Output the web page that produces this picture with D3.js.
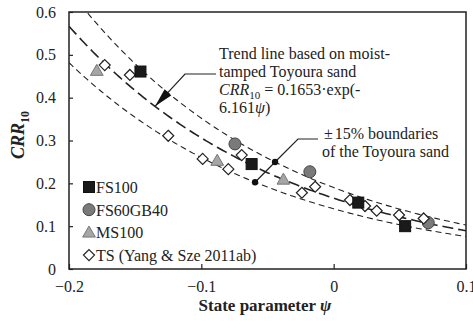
<!DOCTYPE html>
<html><head><meta charset="utf-8">
<script src="https://cdn.jsdelivr.net/npm/d3@7"></script>
<style>body{margin:0;background:#fff}svg{display:block}text{font-family:"Liberation Serif","Times New Roman",serif;fill:#222}</style>
</head><body><svg id="c" width="473" height="326"></svg>
<script>
const xTicks = [-0.2, -0.1, 0, 0.1];
const yTicks = [0, 0.1, 0.2, 0.3, 0.4, 0.5, 0.6];
const trendA = 0.1653, trendB = -6.161, band = 0.15;
const fs100Psi = [-0.146, -0.062, 0.0186, 0.054];
const fs100Crr = [0.461, 0.245, 0.155, 0.100];
const fs60Psi = [-0.0746, -0.018, 0.0715];
const fs60Crr = [0.292, 0.227, 0.108];
const ms100Psi = [-0.179, -0.088, -0.038];
const ms100Crr = [0.463, 0.253, 0.209];
const tsPsi = [-0.173, -0.154, -0.125, -0.099, -0.0796, -0.0695, -0.024, -0.014, 0.0123, 0.0237, 0.0325, 0.0494, 0.068];
const tsCrr = [0.476, 0.453, 0.311, 0.257, 0.233, 0.266, 0.178, 0.192, 0.161, 0.147, 0.136, 0.126, 0.118];
const legendLabels = ["FS100", "FS60GB40", "MS100", "TS (Yang & Sze 2011ab)"];

const svg = d3.select("#c");
const L = 69, R = 466, T = 12, B = 269;
const x = d3.scaleLinear().domain([-0.2, 0.1]).range([L, R]);
const y = d3.scaleLinear().domain([0, 0.6]).range([B, T]);

svg.append("clipPath").attr("id","clip").append("rect").attr("x",L).attr("y",T).attr("width",R-L).attr("height",B-T);

// axes (inward ticks)
const gx = svg.append("g").attr("transform",`translate(0,${B})`)
  .call(d3.axisBottom(x).tickValues(xTicks).tickSize(-5).tickPadding(12).tickFormat(d=>d===0?"0":d3.format("")(d)));
const gy = svg.append("g").attr("transform",`translate(${L},0)`)
  .call(d3.axisLeft(y).tickValues(yTicks).tickSize(-4).tickPadding(13).tickFormat(d=>d===0?"0":d3.format(".1f")(d)));
[gx,gy].forEach(g=>{g.select(".domain").remove();g.selectAll("line").attr("stroke","#222").attr("stroke-width",1.2);
  g.selectAll("text").attr("font-size",16).attr("font-family","Liberation Serif").attr("fill","#222");});
svg.append("rect").attr("x",L).attr("y",T).attr("width",R-L).attr("height",B-T).attr("fill","none").attr("stroke","#222").attr("stroke-width",1.5);

// curves
const psiGrid = d3.range(-0.2, 0.1001, 0.002);
const line = d3.line().x(d=>x(d[0])).y(d=>y(d[1]));
const cg = svg.append("g").attr("clip-path","url(#clip)");
[[1+band,"6,4",1.1],[1,"11,5",1.6],[1-band,"6,4",1.1]].forEach(([f,da,w])=>{
  cg.append("path").attr("d",line(psiGrid.map(p=>[p,f*trendA*Math.exp(trendB*p)])))
    .attr("fill","none").attr("stroke","#222").attr("stroke-width",w).attr("stroke-dasharray",da);
});

// markers
const sym = {
  circle: (g,cx,cy)=>g.append("circle").attr("cx",cx).attr("cy",cy).attr("r",6).attr("fill","#7a7a7a").attr("stroke","#444").attr("stroke-width",1),
  tri: (g,cx,cy)=>g.append("path").attr("d",d3.symbol(d3.symbolTriangle,70)()).attr("transform",`translate(${cx},${cy+1})`).attr("fill","#a6a6a6").attr("stroke","#777").attr("stroke-width",1),
  diamond: (g,cx,cy)=>g.append("path").attr("d","M0,-5.5L5.5,0L0,5.5L-5.5,0Z").attr("transform",`translate(${cx},${cy})`).attr("fill","#fff").attr("stroke","#222").attr("stroke-width",1.2),
  square: (g,cx,cy)=>g.append("rect").attr("x",cx-5.5).attr("y",cy-5.5).attr("width",11).attr("height",11).attr("fill","#1a1a1a").attr("stroke","#111")
};
const mg = svg.append("g");
fs60Psi.forEach((p,i)=>sym.circle(mg,x(p),y(fs60Crr[i])));
ms100Psi.forEach((p,i)=>sym.tri(mg,x(p),y(ms100Crr[i])));
tsPsi.forEach((p,i)=>sym.diamond(mg,x(p),y(tsCrr[i])));
fs100Psi.forEach((p,i)=>sym.square(mg,x(p),y(fs100Crr[i])));

// legend
const lg = svg.append("g");
const lkeys = ["square","circle","tri","diamond"];
lkeys.forEach((k,i)=>{
  const cy = 187 + i*22.7;
  sym[k](lg, 89, cy);
  lg.append("text").attr("x",96).attr("y",cy+6).attr("font-size",16).text(legendLabels[i]);
});

// trend annotation
const tx = 219;
const tl = svg.append("g").attr("font-size",16);
tl.append("text").attr("x",tx).attr("y",59).text("Trend line based on moist-");
tl.append("text").attr("x",tx).attr("y",77).text("tamped Toyoura sand");
const t3 = tl.append("text").attr("x",tx).attr("y",95);
t3.append("tspan").attr("font-style","italic").text("CRR");
t3.append("tspan").attr("font-size",11).attr("dy",4).text("10");
t3.append("tspan").attr("dy",-4).text(" = 0.1653·exp(-");
const t4 = tl.append("text").attr("x",tx).attr("y",113);
t4.append("tspan").text("6.161");
t4.append("tspan").attr("font-style","italic").text("ψ");
t4.append("tspan").text(")");

const tipPsi = -0.135;
const tip = [x(tipPsi), y(trendA*Math.exp(trendB*tipPsi))];
const elbow = [185, 74];
svg.append("path").attr("d",`M${tx-3},74L${elbow[0]},${elbow[1]}L${tip[0]},${tip[1]}`).attr("fill","none").attr("stroke","#222").attr("stroke-width",1.2);
{
  const dx = tip[0]-elbow[0], dy = tip[1]-elbow[1], len = Math.hypot(dx,dy);
  const ux = dx/len, uy = dy/len, hl = 19, hw = 4.5;
  const bx = tip[0]-ux*hl, by = tip[1]-uy*hl;
  svg.append("path").attr("d",`M${tip[0]},${tip[1]}L${bx-uy*hw},${by+ux*hw}L${bx+uy*hw},${by-ux*hw}Z`).attr("fill","#111");
}

// ±15% annotation
const b1 = svg.append("text").attr("x",324).attr("y",139).attr("font-size",16);
b1.append("tspan").text("±");
b1.append("tspan").attr("dx",2).text("15% boundaries");
svg.append("text").attr("x",322).attr("y",157).attr("font-size",16).text("of the Toyoura sand");
const upPsi = -0.0443, loPsi = -0.0594;
const up = [x(upPsi), y((1+band)*trendA*Math.exp(trendB*upPsi))];
const lo = [x(loPsi), y((1-band)*trendA*Math.exp(trendB*loPsi))];
svg.append("path").attr("d",`M318,139L298,139L${up[0]},${up[1]}L${lo[0]},${lo[1]}`).attr("fill","none").attr("stroke","#222").attr("stroke-width",1.2);
[up,lo].forEach(p=>svg.append("circle").attr("cx",p[0]).attr("cy",p[1]).attr("r",3.2).attr("fill","#111"));

// axis titles
svg.append("text").attr("x",265).attr("y",311).attr("text-anchor","middle").attr("font-size",17).attr("font-weight","bold")
  .call(t=>{t.append("tspan").text("State parameter ");t.append("tspan").attr("font-style","italic").text("ψ");});
const yl = svg.append("text").attr("transform","translate(24,135) rotate(-90)").attr("text-anchor","middle").attr("font-size",18).attr("font-weight","bold");
yl.append("tspan").attr("font-style","italic").text("CRR");
yl.append("tspan").attr("font-size",12).attr("dy",5).text("10");
</script></body></html>
